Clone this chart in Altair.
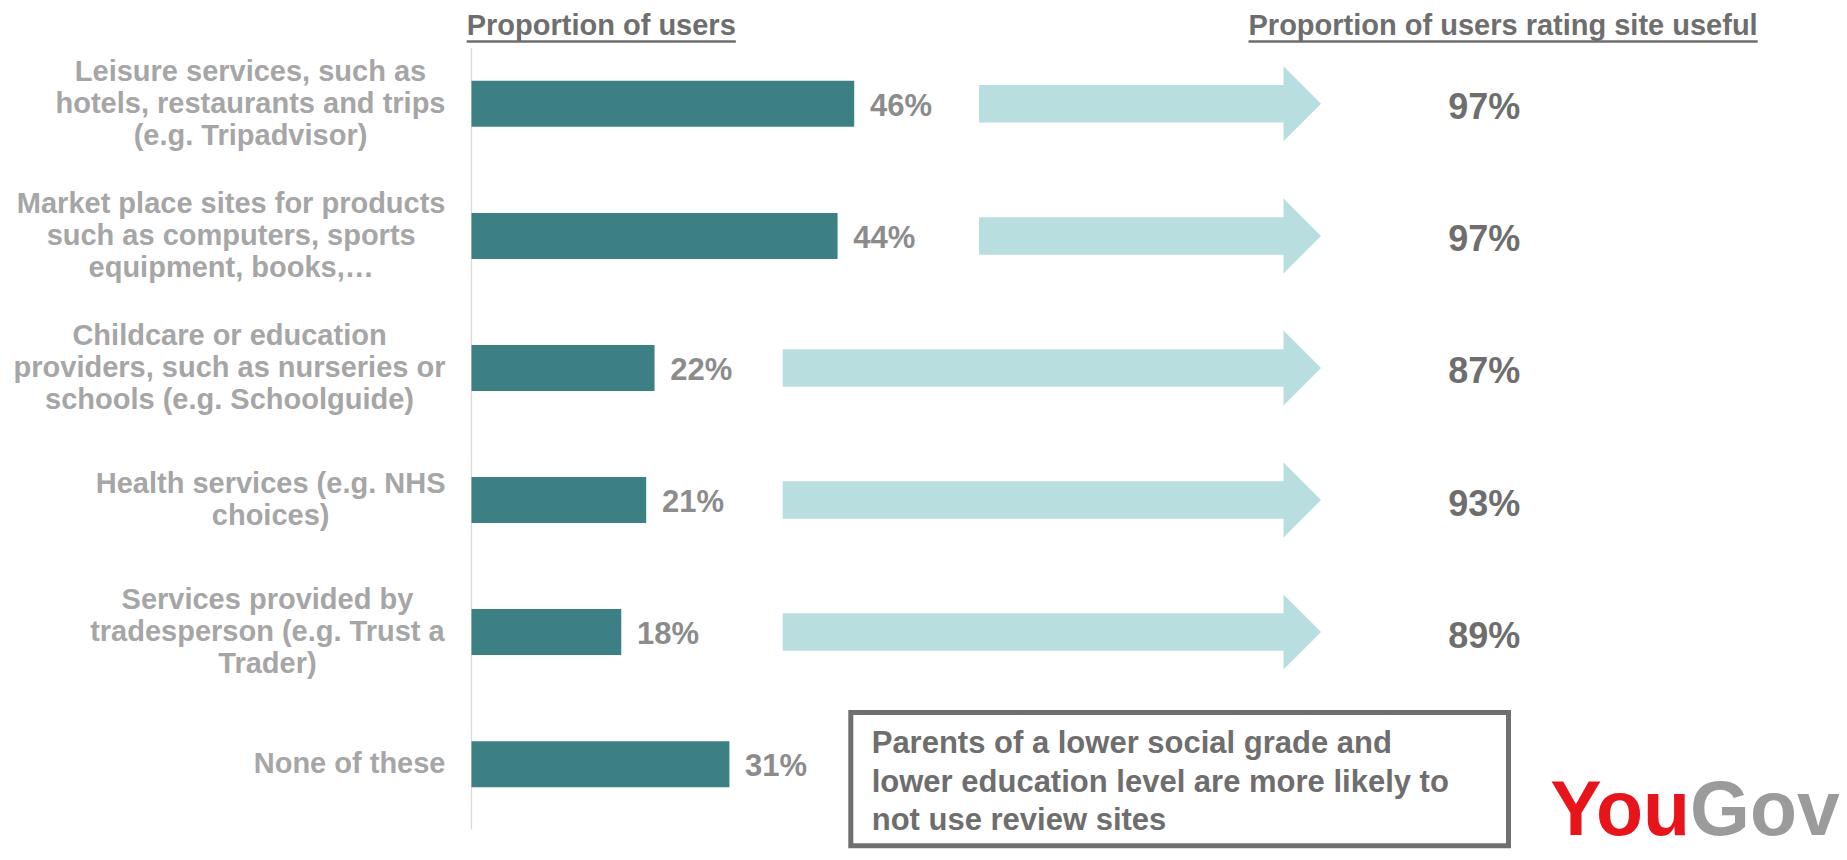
import altair as alt
import pandas as pd

# ---------------- data ----------------
categories = [
    "Leisure services, such as\nhotels, restaurants and trips\n(e.g. Tripadvisor)",
    "Market place sites for products\nsuch as computers, sports\nequipment, books,\u2026",
    "Childcare or education\nproviders, such as nurseries or\nschools (e.g. Schoolguide)",
    "Health services (e.g. NHS\nchoices)",
    "Services provided by\ntradesperson (e.g. Trust a\nTrader)",
    "None of these",
]
users = [46, 44, 22, 21, 18, 31]
useful = [97, 97, 87, 93, 89, None]

header_left = "Proportion of users"
header_right = "Proportion of users rating site useful"
note_text = "Parents of a lower social grade and\nlower education level are more likely to\nnot use review sites"

# ---------------- layout / style ----------------
FONT = "Liberation Sans"
BAR = "#3D8084"
ARROW = "#B9DEE0"
CAT_GREY = "#A6A6A6"
VAL_GREY = "#8C8C8C"
DARK = "#6E6E6E"

PX_PER_UNIT = 8.32
PLOT_W = 1367.5
PLOT_H = 772
XMAX = PLOT_W / PX_PER_UNIT
P_INNER, P_OUTER = 0.6515, 0.2485

# Helvetica/Arial bold advance widths (per 1000 em) to centre label blocks
AW = {" ": 278, ",": 278, ".": 278, "(": 333, ")": 333, "%": 889, "\u2026": 1000,
      "a": 556, "b": 611, "c": 556, "d": 611, "e": 556, "f": 333, "g": 611, "h": 611,
      "i": 278, "j": 278, "k": 556, "l": 278, "m": 889, "n": 611, "o": 611, "p": 611,
      "q": 611, "r": 389, "s": 556, "t": 333, "u": 611, "v": 556, "w": 778, "x": 556,
      "y": 556, "z": 500, "C": 722, "H": 722, "L": 611, "M": 833, "N": 722, "P": 667,
      "S": 667, "T": 611}


def text_width(s, size):
    return sum(AW.get(c, 556) for c in s) * size / 1000.0


CAT_SIZE = 29
CAT_LH = 32
LABEL_RIGHT = -26.0  # right edge of label blocks (px, plot coords)
label_x = [LABEL_RIGHT - max(text_width(l, CAT_SIZE) for l in c.split("\n")) / 2 for c in categories]

# vertical centre of each band (same formula as the band scale), minus half the block height
step = PLOT_H / (len(categories) - P_INNER + 2 * P_OUTER)
label_y = [step * P_OUTER + step * (1 - P_INNER) / 2 + i * step - (c.count("\n")) * CAT_LH / 2
           for i, c in enumerate(categories)]

df = pd.DataFrame({"category": categories, "users": users, "useful": useful,
                   "lx": label_x, "ly": label_y})

yenc = alt.Y("category:N", sort=categories,
             scale=alt.Scale(domain=categories, paddingInner=P_INNER, paddingOuter=P_OUTER),
             axis=None)
xscale = alt.Scale(domain=[0, XMAX], nice=False, zero=True)

base = alt.Chart(df)

axis_line = alt.Chart(pd.DataFrame({"a": [0]})).mark_rule(color="#D9D9D9", strokeWidth=1.3).encode(
    x=alt.value(0), y=alt.value(0), y2=alt.value(781.5))

bars = base.mark_bar(color=BAR).encode(
    x=alt.X("users:Q", scale=xscale, axis=None), y=yenc)

bar_labels = base.transform_calculate(lab="datum.users + '%'").mark_text(
    align="left", baseline="alphabetic", dx=15.7, dy=12, fontSize=31, fontWeight="bold",
    font=FONT, color=VAL_GREY).encode(
    x=alt.X("users:Q", scale=xscale), y=yenc, text="lab:N")

arrows_base = base.transform_filter("isValid(datum.useful)").transform_calculate(
    astart="datum.users > 40 ? 61.0 : 37.4", aend="99.0", hmid="99.85",
    ulab="datum.useful + '%'")

shafts = arrows_base.mark_bar(color=ARROW, height=37.5).encode(
    x=alt.X("astart:Q", scale=xscale), x2="aend:Q", y=yenc)

heads = arrows_base.mark_point(
    shape="M -0.5 -1 L 0.5 0 L -0.5 1 Z", size=75 * 75, filled=True, opacity=1,
    color=ARROW, strokeWidth=0).encode(
    x=alt.X("hmid:Q", scale=xscale), y=yenc)

useful_labels = arrows_base.mark_text(
    align="center", baseline="alphabetic", dy=15.5, fontSize=36, fontWeight="bold",
    font=FONT, color=DARK).encode(x=alt.value(1012.7), y=yenc, text="ulab:N")

cat_labels = base.mark_text(
    align="center", baseline="middle", lineBreak="\n", lineHeight=CAT_LH, fontSize=CAT_SIZE,
    fontWeight="bold", font=FONT, color=CAT_GREY).encode(
    x=alt.X("lx:Q", scale=None), y=alt.Y("ly:Q", scale=None), text="category:N")

# headers with underline
H_SIZE = 29
h1_x, h2_x, h_base = -4.8, 777.0, -13.5


def header(txt, x0):
    t = alt.Chart(pd.DataFrame({"t": [txt]})).mark_text(
        align="left", baseline="alphabetic", fontSize=H_SIZE, fontWeight="bold",
        font=FONT, color=DARK).encode(x=alt.value(x0), y=alt.value(h_base), text="t:N")
    u = alt.Chart(pd.DataFrame({"t": [txt]})).mark_rule(color=DARK, strokeWidth=2.5).encode(
        x=alt.value(x0), x2=alt.value(x0 + text_width(txt, H_SIZE)),
        y=alt.value(-6.5), y2=alt.value(-6.5))
    return t + u


# note box
box = alt.Chart(pd.DataFrame({"b": [0]})).mark_rect(
    fill="white", stroke="#6F6F6F", strokeWidth=5).encode(
    x=alt.value(379.3), x2=alt.value(1037.0), y=alt.value(664.5), y2=alt.value(797.8))

note = alt.Chart(pd.DataFrame({"t": [note_text]})).mark_text(
    align="left", baseline="alphabetic", lineBreak="\n", lineHeight=38.3, fontSize=31,
    fontWeight="bold", font=FONT, color=DARK).encode(
    x=alt.value(400.2), y=alt.value(705.3), text="t:N")

# logo
logo_x, logo_y = 1218.5, 787
logo_you = alt.Chart(pd.DataFrame({"t": ["You"]})).mark_text(
    align="right", baseline="alphabetic", fontSize=77, fontWeight="bold", font=FONT,
    color="#E8141C").encode(x=alt.value(logo_x), y=alt.value(logo_y), text="t:N")
logo_gov = alt.Chart(pd.DataFrame({"t": ["Gov"]})).mark_text(
    align="left", baseline="alphabetic", fontSize=77, fontWeight="bold", font=FONT,
    color="#9B9B9B").encode(x=alt.value(logo_x), y=alt.value(logo_y), text="t:N")

chart = alt.layer(
    axis_line, bars, bar_labels, shafts, heads, useful_labels, cat_labels,
    header(header_left, h1_x), header(header_right, h2_x), box, note, logo_you, logo_gov,
).properties(
    width=PLOT_W, height=PLOT_H,
    padding={"left": 463.5, "top": 40, "right": 0, "bottom": 32},
    autosize=alt.AutoSizeParams(type="none"),
    background="white",
).configure_view(stroke=None)

chart.save("out.html", embed_options={"renderer": "svg", "actions": False})
